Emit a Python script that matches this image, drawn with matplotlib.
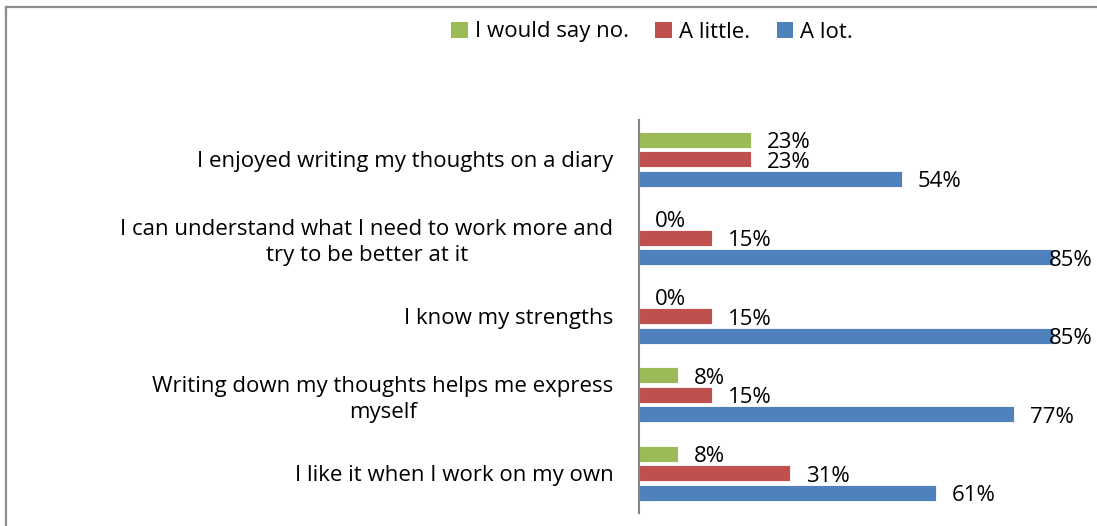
import numpy as np
import matplotlib.pyplot as plt
from matplotlib.patches import Patch
from matplotlib.lines import Line2D

# Data (percent)
categories = [
    "I enjoyed writing my thoughts on a diary",
    "I can understand what I need to work more and\ntry to be better at it",
    "I know my strengths",
    "Writing down my thoughts helps me express\nmyself",
    "I like it when I work on my own",
]
series_names = ["I would say no.", "A little.", "A lot."]
would_say_no = [23, 0, 0, 8, 8]
a_little = [23, 15, 15, 15, 31]
a_lot = [54, 85, 85, 77, 61]
colors = ["#9BBB59", "#C0504D", "#4F81BD"]

plt.rcParams['font.family'] = ['Open Sans', 'DejaVu Sans']
fs = 16

fig = plt.figure(figsize=(10.97, 5.26), dpi=100)
fig.patch.set_facecolor("white")

# outer chart frame (only top and left edges visible)
fx, fy = 5.5 / 1097, 1 - 6.5 / 526
fig.lines.append(Line2D([fx, 1], [fy, fy], transform=fig.transFigure, color="#8C8C8C", linewidth=1.6))
fig.lines.append(Line2D([fx, fx], [0, fy], transform=fig.transFigure, color="#8C8C8C", linewidth=1.6))

ax = fig.add_axes([639 / 1097, 13.5 / 526, 458 / 1097, 392.5 / 526])

y = np.arange(len(categories))
slot = 19.5 / 78.5
bar_h = 16 / 78.5
xmax = 458 / 4.87

values = [would_say_no, a_little, a_lot]
for k, (name, vals, col) in enumerate(zip(series_names, values, colors)):
    pos = y + (k - 1) * slot
    ax.barh(pos, vals, height=bar_h, color=col, label=name, edgecolor="white", linewidth=0.6)
    for p, v in zip(pos, vals):
        txt = f"{v}%"
        if v + 14 > xmax:
            ax.annotate(txt, (xmax, p), xytext=(-3, -2), textcoords="offset points",
                        ha="right", va="center", fontsize=fs, color="black")
        else:
            ax.annotate(txt, (v, p), xytext=(11.5, -2), textcoords="offset points",
                        ha="left", va="center", fontsize=fs, color="black")

ax.set_xlim(0, xmax)
ax.set_ylim(len(categories) - 0.5, -0.5)
ax.set_yticks(y)
ax.set_yticklabels(categories, fontsize=fs, multialignment="center", linespacing=1.3)
ax.tick_params(axis="y", length=0, pad=18.5)
ax.set_xticks([])
for s in ["top", "right", "bottom"]:
    ax.spines[s].set_visible(False)
ax.spines["left"].set_color("#868686")
ax.spines["left"].set_linewidth(1.5)

handles = [Patch(facecolor=c, edgecolor="none") for c in colors]
fig.legend(handles, series_names, loc="center", bbox_to_anchor=(652 / 1097, 1 - 32 / 526),
           ncol=3, frameon=False, fontsize=fs, handlelength=0.75, handleheight=0.75,
           handletextpad=0.3, columnspacing=1.2)

fig.savefig("out.png", dpi=100, facecolor="white")
